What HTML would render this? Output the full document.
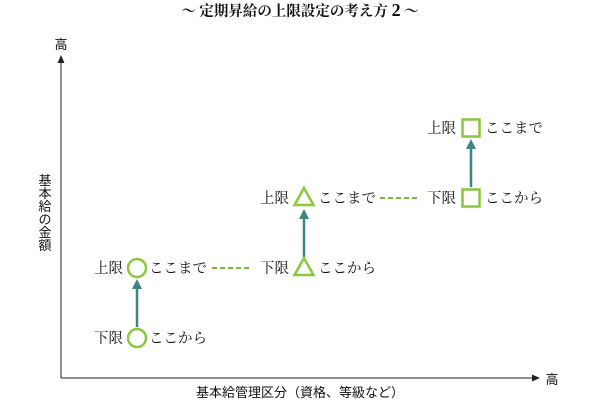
<!DOCTYPE html>
<html><head><meta charset="utf-8"><style>
html,body{margin:0;padding:0;background:#fff;}
svg{display:block}
.s{font-family:"Liberation Serif","Noto Serif CJK SC",serif;font-size:14.5px;fill:#111}
.g{font-family:"Liberation Sans","Noto Sans CJK JP",sans-serif;font-size:13px;fill:#111}
</style></head><body>
<svg width="600" height="400" viewBox="0 0 600 400" xmlns="http://www.w3.org/2000/svg">
<text x="300" y="16" text-anchor="middle" class="s" style="font-size:14.5px;font-weight:bold">〜 定期昇給の上限設定の考え方 <tspan style="font-size:18px">2</tspan> 〜</text>
<line x1="61" y1="378" x2="61" y2="62" stroke="#222" stroke-width="1"/>
<polygon points="61,55 57.5,63 64.5,63" fill="#222"/>
<line x1="61" y1="378" x2="533" y2="378" stroke="#222" stroke-width="1"/>
<polygon points="540,378 532,374.5 532,381.5" fill="#222"/>
<text x="61" y="49" text-anchor="middle" class="g">高</text>
<text x="552" y="384" text-anchor="middle" class="g">高</text>
<text x="300" y="397" text-anchor="middle" class="g">基本給管理区分（資格、等級など）</text>
<g class="g" text-anchor="middle">
<text x="45" y="185">基</text><text x="45" y="198">本</text><text x="45" y="211">給</text><text x="45" y="224">の</text><text x="45" y="237">金</text><text x="45" y="250">額</text>
</g>
<g stroke="#3d8583" stroke-width="2.5" fill="#3d8583">
<line x1="137" y1="327" x2="137" y2="288"/>
<polygon points="137,279 132,289 142,289" stroke="none"/>
<line x1="304" y1="257" x2="304" y2="218"/>
<polygon points="304,209 299,219 309,219" stroke="none"/>
<line x1="471" y1="187" x2="471" y2="148"/>
<polygon points="471,139 466,149 476,149" stroke="none"/>
</g>
<g stroke="#7ab83a" stroke-width="2" stroke-dasharray="5,3">
<line x1="212" y1="268" x2="250" y2="268"/>
<line x1="380" y1="198" x2="418" y2="198"/>
</g>
<g fill="none" stroke="#8cc63f" stroke-width="2.5">
<circle cx="137" cy="338" r="9"/>
<circle cx="137" cy="268" r="9"/>
<polygon points="304,258 294.5,275 313.5,275"/>
<polygon points="304,188 294.5,205 313.5,205"/>
<rect x="462.5" y="189.5" width="17" height="17"/>
<rect x="462.5" y="119.5" width="17" height="17"/>
</g>
<g class="s">
<text x="123" y="343" text-anchor="end">下限</text><text x="149" y="343">ここから</text>
<text x="123" y="273" text-anchor="end">上限</text><text x="149" y="273">ここまで</text>
<text x="289" y="273" text-anchor="end">下限</text><text x="318" y="273">ここから</text>
<text x="289" y="203" text-anchor="end">上限</text><text x="318" y="203">ここまで</text>
<text x="456" y="203" text-anchor="end">下限</text><text x="485" y="203">ここから</text>
<text x="456" y="133" text-anchor="end">上限</text><text x="485" y="133">ここまで</text>
</g>
</svg>
</body></html>
